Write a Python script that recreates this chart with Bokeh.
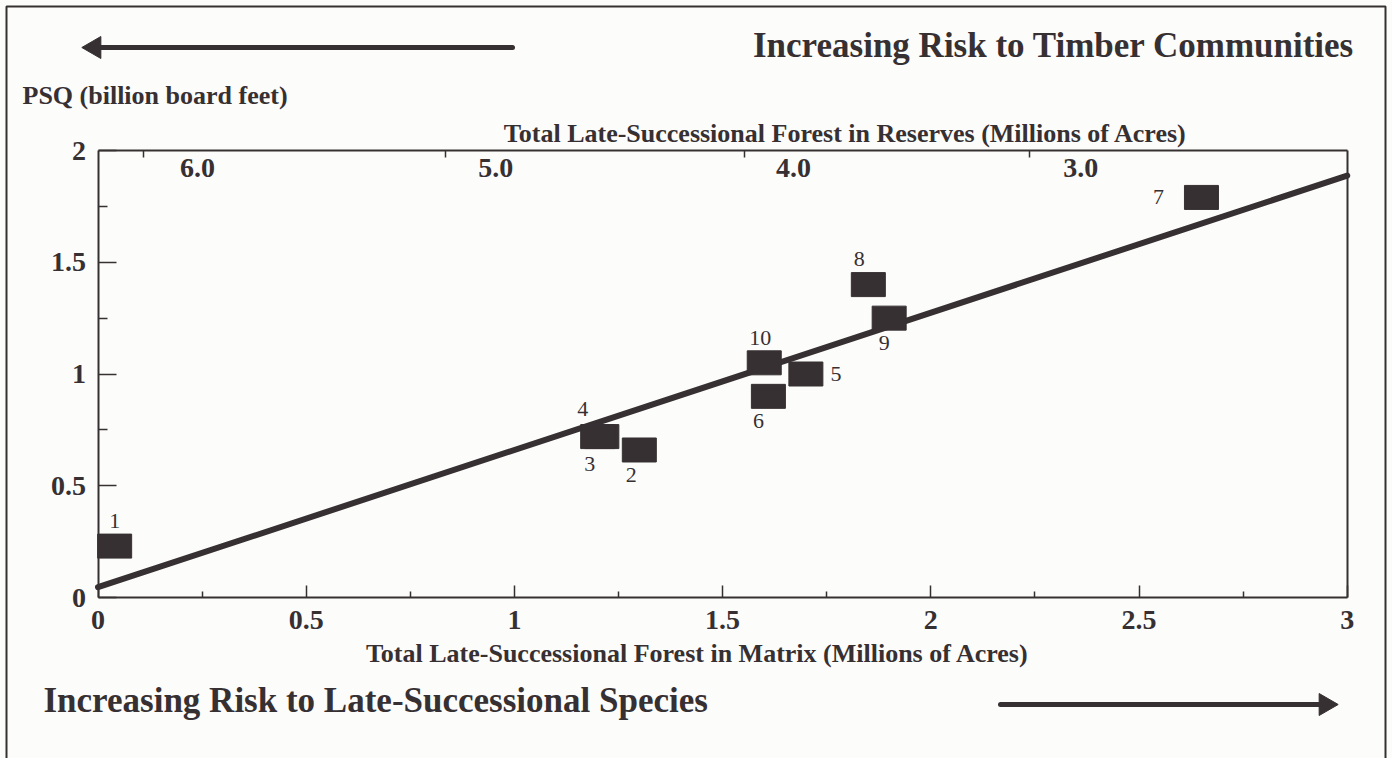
import math
from bokeh.plotting import figure
from bokeh.models import Range1d, LinearAxis, FixedTicker, Label, ColumnDataSource
from bokeh.core.properties import value
from bokeh.embed import file_html
from bokeh.resources import INLINE

# ---------------- data ----------------
alt_ids = ["1", "2", "3", "4", "5", "6", "7", "8", "9", "10"]
matrix_acres = [0.04, 1.30, 1.21, 1.20, 1.70, 1.61, 2.65, 1.85, 1.90, 1.60]   # millions of acres
psq_bbf = [0.23, 0.66, 0.72, 0.72, 1.00, 0.90, 1.79, 1.40, 1.25, 1.05]       # billion board feet

fit_x = [0.0, 3.0]
fit_y = [0.046, 1.888]

x_ticks = [0, 0.5, 1, 1.5, 2, 2.5, 3]
x_minor = [0.25, 0.75, 1.25, 1.75, 2.25, 2.75]
y_ticks = [0, 0.5, 1, 1.5, 2]
y_minor = [0.25, 0.75, 1.25, 1.75]
reserve_labels = ["6.0", "5.0", "4.0", "3.0"]
reserve_tick_pos = [0.109, 0.835, 1.552, 2.237]     # located on the matrix scale
reserve_label_pos = [0.239, 0.955, 1.670, 2.360]

# ---------------- layout / style ----------------
label_dx = [0, -8, -12, -15, 30, -10, -43, -9, -5, -4]
label_dy = [-25, 25, 27, -28, 0, 25, 0, -26, 25, -25]

INK = "#373033"
BG = "#fcfcfa"
SERIF = "Liberation Serif"
W, H = 1392, 758
PX_PER_X, PX_PER_Y = 416.4, 223.5
X0_PX, Y0_PX = 97.5, 597.0

p = figure(width=W, height=H, output_backend="svg", toolbar_location=None, title=None,
           x_range=Range1d(-X0_PX / PX_PER_X, (W - X0_PX) / PX_PER_X),
           y_range=Range1d((Y0_PX - H) / PX_PER_Y, Y0_PX / PX_PER_Y),
           min_border=0, background_fill_color=BG, border_fill_color=BG,
           x_axis_location=None, y_axis_location=None)
p.grid.visible = False
p.outline_line_color = None


def style_axis(ax, labels=True):
    ax.axis_line_color = INK
    ax.axis_line_width = 2
    ax.major_tick_line_color = INK
    ax.minor_tick_line_color = INK
    ax.major_tick_line_width = 1.5
    ax.minor_tick_line_width = 1.5
    ax.major_tick_out = 0
    ax.minor_tick_out = 0
    ax.major_label_text_font = SERIF
    ax.major_label_text_font_style = "bold"
    ax.major_label_text_font_size = "28px"
    ax.major_label_text_color = INK if labels else None


xax = LinearAxis(ticker=FixedTicker(ticks=x_ticks, minor_ticks=x_minor), fixed_location=0,
                 bounds=(0, 3))
style_axis(xax)
xax.major_tick_in = 12
xax.minor_tick_in = 6
xax.major_label_standoff = 13
p.add_layout(xax, "below")

yax = LinearAxis(ticker=FixedTicker(ticks=y_ticks, minor_ticks=y_minor), fixed_location=0,
                 bounds=(0, 2))
style_axis(yax)
yax.major_tick_in = 18
yax.minor_tick_in = 9
yax.major_label_standoff = 12
p.add_layout(yax, "left")

top = LinearAxis(ticker=FixedTicker(ticks=reserve_tick_pos, minor_ticks=[]), fixed_location=2,
                 bounds=(0, 3))
style_axis(top, labels=False)
top.major_tick_in = 7
p.add_layout(top, "above")

right = LinearAxis(ticker=FixedTicker(ticks=[], minor_ticks=[]), fixed_location=3, bounds=(0, 2))
style_axis(right, labels=False)
p.add_layout(right, "right")

# regression line
p.line(fit_x, fit_y, line_width=6, line_color=INK, line_cap="round")

src = ColumnDataSource(dict(x=matrix_acres, y=psq_bbf, lab=alt_ids, dx=label_dx, dy=label_dy))
p.rect("x", "y", width=34, height=24, width_units="screen", height_units="screen",
       source=src, fill_color=INK, line_color=INK)
p.text("x", "y", text="lab", x_offset="dx", y_offset="dy", source=src,
       text_font=value(SERIF), text_font_size="22px", text_color=INK,
       text_align="center", text_baseline="middle")

for lab_txt, xp in zip(reserve_labels, reserve_label_pos):
    p.add_layout(Label(x=xp, y=2, y_offset=-17, text=lab_txt, text_font=SERIF,
                       text_font_style="bold", text_font_size="28px", text_color=INK,
                       text_align="center", text_baseline="middle"))


def px_x(px):
    return (px - X0_PX) / PX_PER_X


def px_y(py):
    return (Y0_PX - py) / PX_PER_Y


def lab(xpx, ypx, text, size, align="left"):
    p.add_layout(Label(x=px_x(xpx), y=px_y(ypx), text=text, text_font=SERIF,
                       text_font_style="bold", text_font_size=size, text_color=INK,
                       text_align=align, text_baseline="middle"))


lab(1354, 45, "Increasing Risk to Timber Communities", "35px", align="right")
lab(22, 95, "PSQ (billion board feet)", "26px")
lab(845, 133, "Total Late-Successional Forest in Reserves (Millions of Acres)", "26px", align="center")
lab(697, 653, "Total Late-Successional Forest in Matrix (Millions of Acres)", "26px", align="center")
lab(43, 700, "Increasing Risk to Late-Successional Species", "35px")

# direction arrows (shaft + head)
p.segment(x0=[px_x(512), px_x(1000)], y0=[px_y(47), px_y(704)],
          x1=[px_x(98), px_x(1322)], y1=[px_y(47), px_y(704)],
          line_color=INK, line_width=5, line_cap="round")
p.scatter(x=[px_x(94), px_x(1325)], y=[px_y(47), px_y(704)], marker="triangle", size=22,
          angle=[math.pi / 2, -math.pi / 2], fill_color=INK, line_color=INK)

# page border (left, top, right)
p.line([px_x(6), px_x(6), px_x(1385), px_x(1385)], [px_y(800), px_y(6), px_y(6), px_y(800)],
       line_color=INK, line_width=2)

open("out.html", "w").write(file_html(p, INLINE))
